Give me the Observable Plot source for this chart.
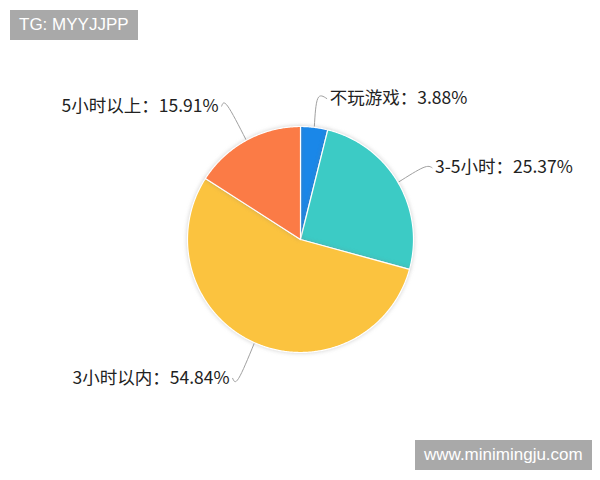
<!DOCTYPE html>
<html><head><meta charset="utf-8">
<script src="https://cdn.jsdelivr.net/npm/d3@7"></script>
<script src="https://cdn.jsdelivr.net/npm/@observablehq/plot@0.6"></script>
<style>
body{margin:0;background:#fff;}
#wrap{position:relative;width:600px;height:480px;overflow:hidden;}
#wrap svg{position:absolute;left:0;top:0;}
.wm{position:absolute;background:#a9a9a9;color:#fff;font-family:"Liberation Sans",Arial,sans-serif;font-size:17px;line-height:30px;padding:0 9px;z-index:2;}
.pie{filter:drop-shadow(0 0 2px rgba(120,120,120,0.35));}
</style></head><body>
<div id="wrap">
<div class="wm" style="left:10px;top:10px;">TG: MYYJJPP</div>
<div class="wm" style="left:415px;top:440px;">www.minimingju.com</div>
</div>
<script>
const categories = ["不玩游戏", "3-5小时", "3小时以内", "5小时以上"];
const values = [3.88, 25.37, 54.84, 15.91];
const colors = ["#1a87e8", "#3ccbc5", "#fbc33f", "#fb7b46"];

const cx = 300, cy = 239, R = 113;
const data = categories.map((c, i) => ({cat: c, value: values[i], color: colors[i]}));
const arcs = d3.pie().sort(null).value(d => d.value)(data);

const pt = (a, r) => ({x: cx + r * Math.sin(a), y: cy - r * Math.cos(a)});

const sliceMarks = arcs.map(a => {
  const pts = [{x: cx, y: cy}];
  const n = Math.max(2, Math.ceil((a.endAngle - a.startAngle) / 0.01));
  for (let k = 0; k <= n; k++) pts.push(pt(a.startAngle + (a.endAngle - a.startAngle) * k / n, R));
  pts.push({x: cx, y: cy});
  return Plot.line(pts, {x: "x", y: "y", fill: a.data.color, stroke: "#fff", strokeWidth: 1.2, curve: "linear", className: "pie"});
});

const labels = arcs.map(a => {
  const m = (a.startAngle + a.endAngle) / 2;
  const right = Math.sin(m) >= 0;
  const p0 = pt(m, R + 1);
  const p1 = pt(m, right ? 142 : 152);
  const p2 = {x: p1.x + (right ? 9 : -6), y: p1.y};
  return {
    cat: a.data.cat, right,
    line: [p0, p1, p2],
    tx: p2.x + (right ? 3 : -3), ty: p2.y,
    text: `${a.data.cat}：${a.data.value.toFixed(2)}%`
  };
});

const leaderMarks = labels.map(l => Plot.line(l.line, {x: "x", y: "y", stroke: "#a0a0a0", strokeWidth: 1, curve: "natural"}));

const chart = Plot.plot({
  width: 600, height: 480,
  margin: 0,
  x: {domain: [0, 600], range: [0, 600], axis: null},
  y: {domain: [0, 480], range: [0, 480], axis: null},
  style: {fontFamily: "'Noto Sans CJK SC', 'Noto Sans', sans-serif", background: "transparent"},
  marks: [
    ...leaderMarks,
    ...sliceMarks,
    Plot.text(labels.filter(d => d.right), {x: "tx", y: "ty", text: "text", textAnchor: "start", fontSize: 17.5, fill: "#222"}),
    Plot.text(labels.filter(d => !d.right), {x: "tx", y: "ty", text: "text", textAnchor: "end", fontSize: 17.5, fill: "#222"})
  ]
});
document.getElementById("wrap").appendChild(chart);
</script>
</body></html>
